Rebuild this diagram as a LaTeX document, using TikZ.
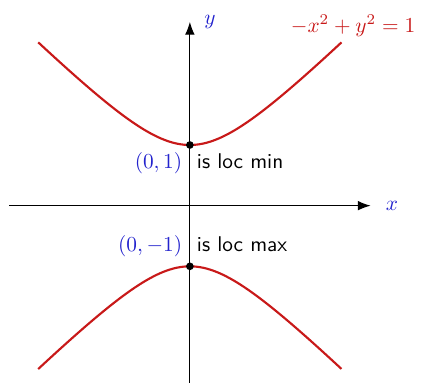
\documentclass[tikz,border=0pt]{standalone}
\usetikzlibrary{arrows.meta}
\definecolor{curvered}{RGB}{200,25,25}
\definecolor{labblue}{RGB}{35,35,205}
\tikzset{
  axis/.style={line width=0.5pt,-{Latex[length=6pt,width=4.5pt]}},
  curve/.style={line width=1pt,curvered},
  bluelab/.style={text=labblue,inner sep=0pt},
  txtlab/.style={inner sep=0pt,font=\sffamily,text height=1.5ex,text depth=0.25ex},
  mathlab/.style={text=labblue,inner sep=0pt,text height=1.5ex,text depth=0.25ex},
  dot/.style={circle,fill=black,inner sep=0pt,minimum size=3.6pt}
}
\begin{document}
\begin{tikzpicture}
\useasboundingbox (-3.13,-2.92) rectangle (3.81,3.39);
\coordinate (xl) at (-2.98,0);
\coordinate (xr) at (2.98,0);
\coordinate (yb) at (0,-3);
\coordinate (yt) at (0,3.03);
\draw[axis] (xl) -- (xr);
\draw[axis] (yb) -- (yt);
\node[bluelab] (xlab) at (3.33,0) {$x$};
\node[bluelab] (ylab) at (0.33,3.03) {$y$};
\draw[curve] plot[domain=-2.5:2.5,samples=80,smooth] (\x,{sqrt(1+\x*\x)});
\draw[curve] plot[domain=-2.5:2.5,samples=80,smooth] (\x,{-sqrt(1+\x*\x)});
\node[text=curvered,inner sep=0pt] (eq) at (2.69,2.97) {$-x^2+y^2=1$};
\node[dot] (p1) at (0,1) {};
\node[dot] (p2) at (0,-1) {};
\node[mathlab,anchor=east] (l1) at (-0.12,0.71) {$(0,1)$};
\node[txtlab,anchor=west] (t1) at (0.11,0.71) {is loc min};
\node[mathlab,anchor=east] (l2) at (-0.12,-0.66) {$(0,-1)$};
\node[txtlab,anchor=west] (t2) at (0.11,-0.66) {is loc max};
\end{tikzpicture}
\end{document}
